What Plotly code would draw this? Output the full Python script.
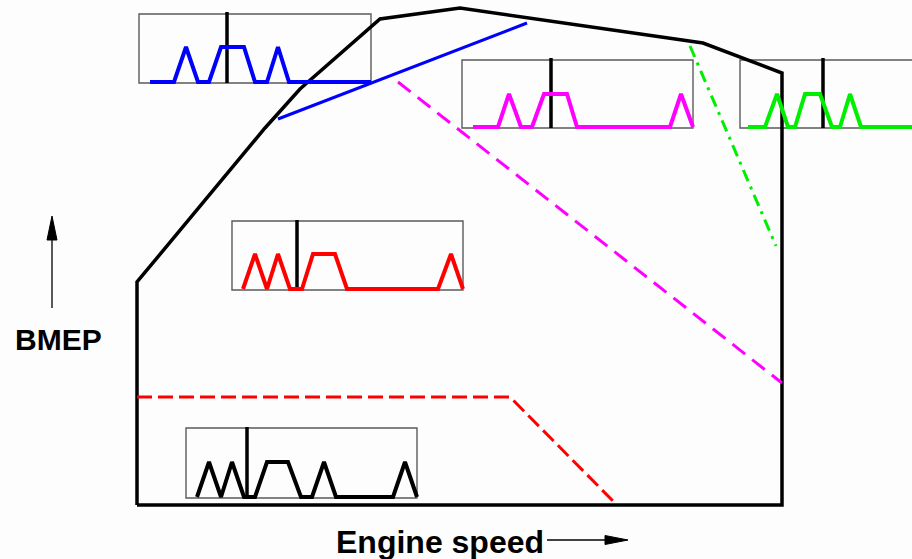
import plotly.graph_objects as go

# ---- Data (diagram coordinates: x = engine speed, y = screen-down BMEP scale) ----
envelope_x = [137, 137, 265, 300, 380, 460, 703, 782, 782, 137]
envelope_y = [505, 282, 128, 89, 19, 8, 43, 73, 505, 505]

blue_line_x = [278, 527]
blue_line_y = [119, 23]

magenta_line_x = [398, 782]
magenta_line_y = [82, 383]

green_line_x = [690, 776]
green_line_y = [46, 246]

red_line_x = [137, 510, 614]
red_line_y = [397, 397, 502]

# inset boxes: [x0, y0, x1, y1]
box_blue = [139, 14, 371, 83]
box_magenta = [462, 60, 693, 128]
box_green = [740, 60, 930, 128]
box_red = [232, 221, 463, 290]
box_black = [186, 428, 417, 498]

# vertical markers inside boxes: x, y_top, y_bottom
marker_blue = [227, 12, 83]
marker_magenta = [551, 58, 128]
marker_green = [823, 58, 128]
marker_red = [297, 220, 290]
marker_black = [247, 427, 498]

wave_blue_x = [150, 174, 186, 198, 209, 221, 244, 255, 267, 278, 289, 371]
wave_blue_y = [82, 82, 47, 82, 82, 47, 47, 82, 82, 47, 82, 82]

wave_magenta_x = [473, 498, 509, 521, 532, 544, 567, 577, 670, 681, 693]
wave_magenta_y = [127, 127, 94, 127, 127, 94, 94, 127, 127, 94, 127]

wave_green_x = [748, 765, 777, 788, 795, 805, 820, 832, 840, 850, 861, 915]
wave_green_y = [127, 127, 94, 127, 127, 94, 94, 127, 127, 94, 127, 127]

wave_red_x = [243, 255, 267, 278, 290, 302, 313, 335, 347, 438, 451, 463]
wave_red_y = [289, 254, 289, 254, 289, 289, 254, 254, 289, 289, 254, 289]

wave_black_x = [197, 209, 221, 232, 244, 255, 267, 288, 301, 312, 324, 336, 393, 405, 417]
wave_black_y = [497, 462, 497, 462, 497, 497, 462, 462, 497, 497, 462, 497, 497, 462, 497]

# axis arrows (shaft + head)
up_shaft_x = [52, 52]
up_shaft_y = [308, 236]
up_head_x = [47, 52, 57, 47]
up_head_y = [240, 216, 240, 240]

right_shaft_x = [547, 608]
right_shaft_y = [540, 540]
right_head_x = [605, 628, 605, 605]
right_head_y = [535.5, 540, 544.5, 535.5]

label_y = "BMEP"
label_x = "Engine speed"

FONT = "Liberation Sans, Arial, sans-serif"

fig = go.Figure()


def line(x, y, color, width, dash="solid"):
    fig.add_trace(go.Scatter(x=x, y=y, mode="lines", hoverinfo="skip",
                             line=dict(color=color, width=width, dash=dash),
                             showlegend=False))


def head(x, y):
    fig.add_trace(go.Scatter(x=x, y=y, mode="lines", fill="toself", fillcolor="black",
                             hoverinfo="skip", line=dict(color="black", width=1),
                             showlegend=False))


# boxes (thin gray rectangles, below traces)
for b in [box_blue, box_magenta, box_green, box_red, box_black]:
    fig.add_shape(type="rect", x0=b[0], y0=b[1], x1=b[2], y1=b[3],
                  line=dict(color="#5a5a5a", width=1.4), layer="below")

# envelope and operating lines
line(envelope_x, envelope_y, "black", 3.5)
line(blue_line_x, blue_line_y, "#0000ff", 3)
line(magenta_line_x, magenta_line_y, "#ff00ff", 3, "16px,9px")
line(green_line_x, green_line_y, "#00ee00", 3, "12px,6px,3px,6px")
line(red_line_x, red_line_y, "#ff0000", 3, "15px,6px")

# markers inside boxes
for m in [marker_blue, marker_magenta, marker_green, marker_red, marker_black]:
    line([m[0], m[0]], [m[1], m[2]], "black", 3.5)

# waveforms
line(wave_blue_x, wave_blue_y, "#0000ff", 4)
line(wave_magenta_x, wave_magenta_y, "#ff00ff", 4)
line(wave_green_x, wave_green_y, "#00ee00", 4)
line(wave_red_x, wave_red_y, "#ff0000", 4)
line(wave_black_x, wave_black_y, "black", 4)

# axis arrows
line(up_shaft_x, up_shaft_y, "black", 1.3)
head(up_head_x, up_head_y)
line(right_shaft_x, right_shaft_y, "black", 1.3)
head(right_head_x, right_head_y)

# labels
fig.add_annotation(x=58, y=339, xref="x", yref="y", text="<b>" + label_y + "</b>",
                   showarrow=False, font=dict(family=FONT, size=30, color="black"),
                   xanchor="center", yanchor="middle")
fig.add_annotation(x=440, y=542, xref="x", yref="y", text="<b>" + label_x + "</b>",
                   showarrow=False, font=dict(family=FONT, size=32, color="black"),
                   xanchor="center", yanchor="middle")

fig.update_xaxes(range=[0, 912], visible=False, fixedrange=True)
fig.update_yaxes(range=[559, 0], visible=False, fixedrange=True)
fig.update_layout(width=912, height=559, autosize=False,
                  margin=dict(l=0, r=0, t=0, b=0, pad=0),
                  paper_bgcolor="#fdfdfd", plot_bgcolor="#fdfdfd")

fig.write_html("out.html", config={"displayModeBar": False},
               post_script="document.body.style.margin='0';document.body.style.overflow='hidden';")
